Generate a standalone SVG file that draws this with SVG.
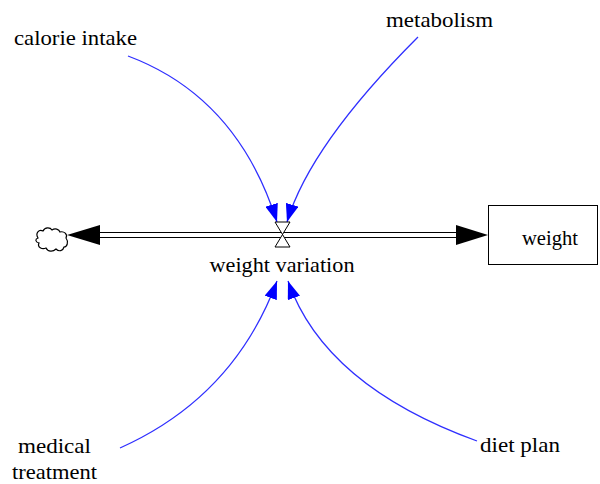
<svg xmlns="http://www.w3.org/2000/svg" width="600" height="484" viewBox="0 0 600 484">
<style>
text{font-family:"Liberation Serif","Times New Roman",serif;font-size:21px;fill:#000;}
.link{fill:none;stroke:#2f2fff;stroke-width:1.3;}
.pipe{stroke:#000;stroke-width:1;fill:none;}
.head{fill:#000;}
</style>
<defs>
<marker id="ah" markerUnits="userSpaceOnUse" markerWidth="18" markerHeight="13" viewBox="0 0 18 13" refX="18" refY="6.5" orient="auto">
<path d="M0,0 L18,6.5 L0,13 Z" fill="#0000ff"/>
</marker>
</defs>
<rect width="600" height="484" fill="#fff"/>
<g id="connectors">
<line class="pipe" x1="98" y1="232.5" x2="458" y2="232.5"/>
<line class="pipe" x1="98" y1="237.5" x2="458" y2="237.5"/>
<polygon class="head" points="67,235 100,225 100,245"/>
<polygon class="head" points="488,235 456,225 456,245"/>
<path class="link" d="M128,56 Q237.5,97 277,222" marker-end="url(#ah)"/>
<path class="link" d="M418,37 Q310,145 287,222" marker-end="url(#ah)"/>
<path class="link" d="M120,448 Q234,397 277,281" marker-end="url(#ah)"/>
<path class="link" d="M477,441 Q324.6,385.6 288,281" marker-end="url(#ah)"/>
</g>
<g id="cloud">
<path d="M38,238 C35,233 39,229 43,231 C45,227 50,227 52,230 C55,228 59,229 60,232 C64,231 68,234 66,238 C69,242 67,247 64,247 C63,251 59,252 56,249 C53,252 48,252 46,248 C42,250 37,247 39,243 C35,242 35,239 38,238 Z" fill="#fff" stroke="#000" stroke-width="1.2"/>
</g>
<g id="weight-variation">
<path d="M275,222 L290,222 L275,247 L290,247 Z" fill="#fff" stroke="#000" stroke-width="1"/>
<text x="282" y="272" text-anchor="middle" textLength="145" lengthAdjust="spacingAndGlyphs">weight variation</text>
</g>
<g id="weight">
<rect x="488.5" y="205.5" width="109" height="59" fill="#fff" stroke="#000" stroke-width="1"/>
<text x="522" y="245" textLength="56" lengthAdjust="spacingAndGlyphs">weight</text>
</g>
<g id="calorie-intake">
<text x="14" y="45" textLength="123" lengthAdjust="spacingAndGlyphs">calorie intake</text>
</g>
<g id="metabolism">
<text x="386" y="27" textLength="107" lengthAdjust="spacingAndGlyphs">metabolism</text>
</g>
<g id="medical-treatment">
<text x="18" y="453" textLength="73" lengthAdjust="spacingAndGlyphs">medical</text>
<text x="12" y="479" textLength="85" lengthAdjust="spacingAndGlyphs">treatment</text>
</g>
<g id="diet-plan">
<text x="480" y="452" textLength="80" lengthAdjust="spacingAndGlyphs">diet plan</text>
</g>
</svg>
